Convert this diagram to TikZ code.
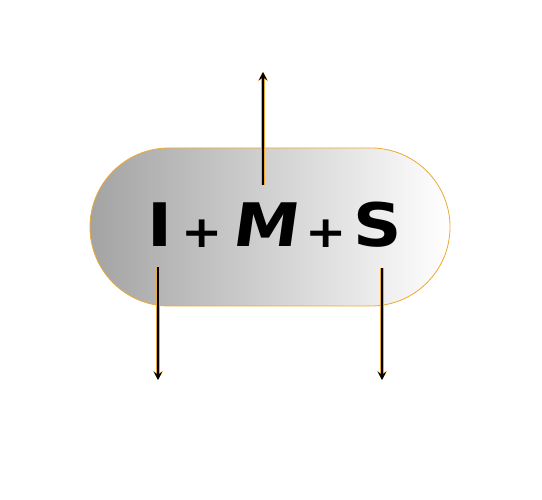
\documentclass[tikz,border=0pt]{standalone}
\usepackage{fontspec}
\usepackage{tikz}
\usetikzlibrary{arrows.meta,shapes.misc}
\newfontfamily\imsfont[FakeStretch=1.12]{DejaVu Sans}
\newfontfamily\imsslant[FakeStretch=1.1,FakeSlant=0.14]{DejaVu Sans}
\definecolor{goldline}{RGB}{236,170,50}

\begin{document}
\begin{tikzpicture}[x=1pt,y=-1pt,
  pill/.style={rounded rectangle,draw=goldline,line width=0.8pt,
    left color=black!36,right color=white,
    minimum width=360pt,minimum height=158pt,inner sep=0pt},
  letter/.style={anchor=base,inner sep=0pt,
    font=\imsfont\bfseries\fontsize{60}{60}\selectfont},
  plussign/.style={anchor=base,inner sep=0pt,
    font=\imsfont\bfseries\fontsize{44}{44}\selectfont},
  flow/.style={line width=1.3pt,-{Stealth[length=8pt,width=8pt]},
    preaction={draw=goldline,line width=3.2pt,-{Stealth[length=9pt,width=10pt]}}}]
\useasboundingbox (0,0) rectangle (542,500);

\node[pill] (box) at (270,227) {};
\node[letter] (I) at (160.5,247) {I};
\node[plussign] (p1) at (202,248) {+};
\node[letter,font=\imsslant\bfseries\fontsize{60}{60}\selectfont] (M) at (264,247) {M};
\node[plussign] (p2) at (326,248) {+};
\node[letter] (S) at (378,247) {S};

\coordinate (outI) at (158,380);
\coordinate (outM) at (263,72);
\coordinate (outS) at (382,380);
\draw[flow,shorten <=20pt] (I.south -| outI) -- (outI);
\draw[flow,shorten <=18pt] (M.north -| outM) -- (outM);
\draw[flow,shorten <=20pt] (S.south -| outS) -- (outS);

\end{tikzpicture}
\end{document}
